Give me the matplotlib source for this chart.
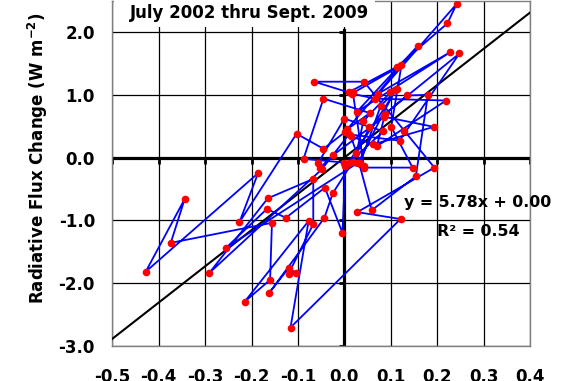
import numpy as np
import matplotlib
matplotlib.use("Agg")
import matplotlib.pyplot as plt
from matplotlib.patches import Rectangle

plt.rcParams['font.family'] = ['DejaVu Sans']
plt.rcParams['mathtext.default'] = 'bf'

# --- data (temperature change, radiative flux change), in time order ---
temp_change = [0.002, -0.045, -0.103, -0.226, -0.186, -0.428, -0.344, -0.374, -0.156, -0.160,
               -0.215, -0.077, -0.116, 0.121, 0.028, 0.194, 0.129, 0.042, -0.065, 0.009,
               0.114, 0.222, 0.242, 0.073, 0.228, 0.027, 0.158, 0.006, 0.055, -0.045,
               -0.088, 0.000, 0.042, 0.147, 0.101, 0.123, 0.016, 0.066, 0.219, 0.070,
               0.088, 0.248, 0.119, 0.010, -0.049, -0.291, -0.165, -0.067, -0.067, -0.120,
               -0.105, -0.120, -0.162, -0.043, -0.025, 0.018, 0.054, 0.135, 0.180, 0.154,
               0.059, 0.026, 0.041, 0.099, 0.109, 0.030, -0.255, -0.167, -0.126, -0.042,
               -0.004, 0.002, 0.084, 0.000, -0.056, -0.052, -0.024, 0.086, 0.193, 0.062,
               0.014, 0.034, 0.078, 0.113, 0.009, 0.042, 0.018]
flux_change = [0.41, 0.14, 0.38, -1.03, -0.25, -1.82, -0.66, -1.36, -1.04, -1.95,
               -2.30, -1.01, -2.71, -0.98, -0.87, -0.16, 0.43, 1.21, 1.21, 1.04,
               1.45, 2.14, 2.45, 1.02, 1.68, 0.73, 1.78, 0.45, 0.71, 0.94,
               -0.02, -0.08, -0.16, -0.16, 0.49, 1.47, 1.02, 0.94, 0.91, 0.18,
               0.70, 1.66, 0.27, 0.37, -0.19, -1.84, -0.65, -0.34, -1.06, -1.85,
               -1.84, -1.76, -2.16, -0.96, -0.57, -0.07, 0.48, 0.99, 1.00, -0.30,
               -0.84, 0.07, 0.58, 1.04, 1.07, -0.08, -1.44, -0.82, -0.96, -0.48,
               -1.20, -0.14, 0.42, 0.62, -0.08, -0.16, 0.04, 0.65, 0.49, 0.21,
               0.34, -0.09, 0.82, 1.09, -0.08, -0.14, 1.05]
fit_slope = 5.78
fit_intercept = 0.00
x_ticks = [-0.5, -0.4, -0.3, -0.2, -0.1, 0.0, 0.1, 0.2, 0.3, 0.4]
x_tick_labels = ['-0.5', '-0.4', '-0.3', '-0.2', '-0.1', '0.0', '0.1', '0.2', '0.3', '0.4']
y_ticks = [-3, -2, -1, 0, 1, 2]
y_tick_labels = ['-3.0', '-2.0', '-1.0', '0.0', '1.0', '2.0']

W, H = 576, 381
fig = plt.figure(figsize=(W / 100, H / 100), dpi=100)
left, right, bottom, top = 112.3, 530.0, 345.7, 0.8
ax = fig.add_axes([left / W, 1 - bottom / H, (right - left) / W, (bottom - top) / H])
ax.set_xlim(-0.5, 0.4)
ax.set_ylim(-3.0, 2.5)

ax.set_xticks(x_ticks)
ax.set_xticklabels(x_tick_labels)
ax.set_yticks(y_ticks)
ax.set_yticklabels(y_tick_labels)
ax.tick_params(axis='x', length=0, pad=16, labelsize=12)
ax.tick_params(axis='y', length=0, pad=12.5, labelsize=12)
for lab in ax.get_xticklabels() + ax.get_yticklabels():
    lab.set_fontweight('bold')

ax.grid(True, color='black', linewidth=0.9, zorder=1)
ax.set_axisbelow(True)
for s in ax.spines.values():
    s.set_color('#808080')
    s.set_linewidth(1.0)

# axis lines through the origin with tick marks
ax.axhline(0, color='black', linewidth=2.3, zorder=2)
ax.vlines(x_ticks, -0.11, 0, color='black', linewidth=2.0, zorder=2)
ax.plot([0, 0], [-3.0, 2.03], color='black', linewidth=2.3, zorder=2)
ax.hlines(y_ticks, -0.012, 0, color='black', linewidth=2.0, zorder=2)

# regression line
xf = np.array([-0.5, 0.4])
ax.plot(xf, fit_slope * xf + fit_intercept, color='black', linewidth=1.5, zorder=3)

# data
ax.plot(temp_change, flux_change, color='#0000FF', linewidth=1.3, zorder=4)
ax.plot(temp_change, flux_change, 'o', color='#FF0000', markersize=5.5, zorder=5,
        markeredgewidth=0)

# title box
ax.add_patch(Rectangle((0.004, 0.924), 0.625, 0.08, transform=ax.transAxes,
                       facecolor='white', edgecolor='none', zorder=6, clip_on=False))
fig.text(250 / W, 1 - 13 / H, 'July 2002 thru Sept. 2009', ha='center', va='center',
         fontsize=12, fontweight='bold', zorder=7)

fig.text(38 / W, 1 - 158 / H, 'Radiative Flux Change (W m$^{-2}$)', rotation=90,
         ha='center', va='center', fontsize=12, fontweight='bold')

fig.text(404 / W, 1 - 203 / H, 'y = 5.78x + 0.00', ha='left', va='center',
         fontsize=11.4, fontweight='bold')
fig.text(437 / W, 1 - 232 / H, 'R\u00b2 = 0.54', ha='left', va='center',
         fontsize=11.4, fontweight='bold')

fig.savefig('out.png', dpi=100)
